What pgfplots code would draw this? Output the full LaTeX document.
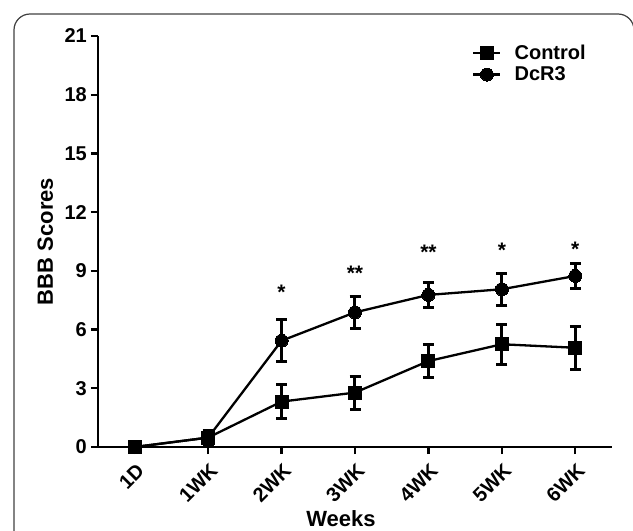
\documentclass[border=0pt]{standalone}
\usepackage{fontspec}
\setmainfont{Liberation Sans}
\usepackage{pgfplots}
\pgfplotsset{compat=1.18}
\begin{document}
\begin{tikzpicture}[x=1pt,y=1pt]
\useasboundingbox (0,0) rectangle (633,531);
\begin{scope}
\clip (0,0) rectangle (633,531);
\draw[line width=1.2pt, black!75, rounded corners=16pt] (14,-30) rectangle (634,517);
\end{scope}
\begin{axis}[
  at={(98pt,84pt)}, anchor=south west,
  scale only axis, width=514pt, height=411pt,
  xmin=-0.5, xmax=6.5, ymin=0, ymax=21,
  axis x line*=bottom, axis y line*=left,
  axis line style={line width=2.5pt, -},
  xtick={0,...,6},
  xticklabels={1D,1WK,2WK,3WK,4WK,5WK,6WK},
  ytick={0,3,...,21},
  tick align=outside, tick pos=left,
  major tick length=7pt,
  tick style={line width=2.2pt, black},
  /pgf/number format/assume math mode=true,
  tick label style={font=\fontsize{20}{23}\selectfont\bfseries},
  yticklabel style={inner sep=2pt, xshift=-2pt},
  xticklabel style={xshift=1pt, yshift=-8pt, rotate=45, anchor=north east, inner sep=0pt},
  ylabel={BBB Scores}, xlabel={Weeks},
  label style={font=\fontsize{22}{25}\selectfont\bfseries},
  ylabel style={yshift=6pt},
  xlabel style={yshift=-3pt, xshift=-14pt},
  legend style={draw=none, fill=none, at={(0.728,0.933)}, anchor=west,
    inner sep=0pt, outer sep=0pt,
    font=\fontsize{20}{23}\selectfont\bfseries, row sep=2pt,
    legend cell align=left},
  legend image code/.code={
    \draw[line width=2.5pt] (0pt,0pt) -- (27pt,0pt);
    \path (38pt,0pt);
    \draw[#1, line width=0pt] plot coordinates {(13.5pt,0pt)};},
  clip=false,
]
\addplot+[black, line width=2.3pt, mark=square*, mark size=6.5pt,
  mark options={solid, fill=black, line width=0pt},
  error bars/.cd, y dir=both, y explicit,
  error bar style={line width=3pt},
  error mark options={rotate=90, mark size=5.5pt, line width=3pt}]
  table[x=x, y=y, y error=e] {
x y e
0 0 0
1 0.48 0.35
2 2.32 0.87
3 2.78 0.84
4 4.39 0.85
5 5.25 1.01
6 5.07 1.10
};
\addlegendentry{Control}
\addplot+[black, line width=2.3pt, mark=*, mark size=6.5pt,
  mark options={solid, fill=black, line width=0pt},
  error bars/.cd, y dir=both, y explicit,
  error bar style={line width=3pt},
  error mark options={rotate=90, mark size=5.5pt, line width=3pt}]
  table[x=x, y=y, y error=e] {
x y e
0 0 0
1 0.48 0.30
2 5.43 1.08
3 6.88 0.81
4 7.77 0.64
5 8.06 0.83
6 8.74 0.64
};
\addlegendentry{DcR3}
\begin{scope}[every node/.style={font=\fontsize{21}{23}\selectfont\bfseries, inner sep=0pt, anchor=north}]
\node at (axis cs:2,8.3) {*};
\node at (axis cs:3,9.25) {**};
\node at (axis cs:4,10.35) {**};
\node at (axis cs:5,10.45) {*};
\node at (axis cs:6,10.5) {*};
\end{scope}
\end{axis}
\end{tikzpicture}
\end{document}
